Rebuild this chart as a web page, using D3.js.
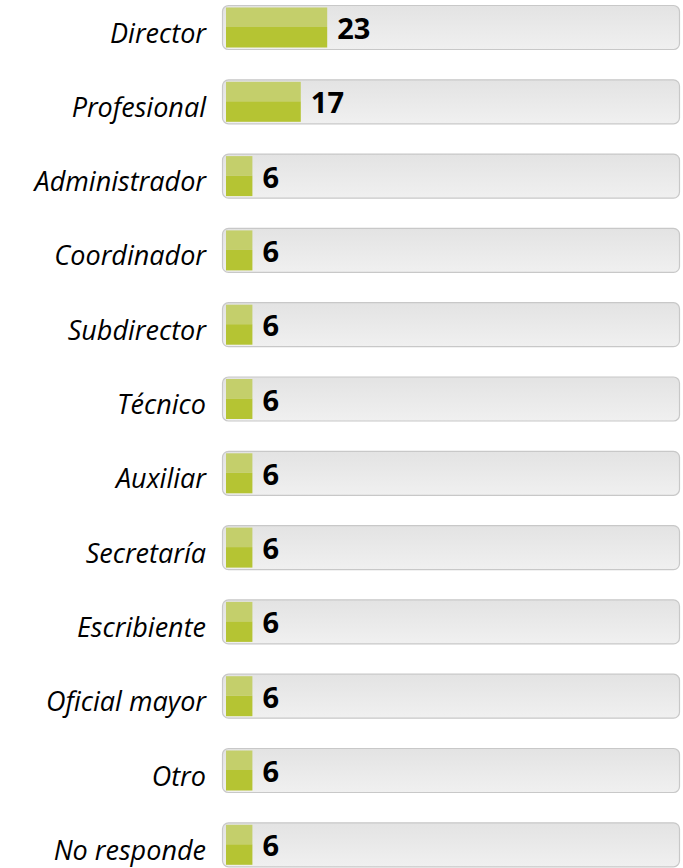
<!DOCTYPE html>
<html><head><meta charset="utf-8">
<script src="https://cdn.jsdelivr.net/npm/d3@7"></script>
<style>body{margin:0;background:#fff}</style>
</head><body>
<svg id="c" width="683" height="868"></svg>
<script>
const categories = ["Director","Profesional","Administrador","Coordinador","Subdirector","Técnico","Auxiliar","Secretaría","Escribiente","Oficial mayor","Otro","No responde"];
const values = [23,17,6,6,6,6,6,6,6,6,6,6];

const svg = d3.select("#c");
const defs = svg.append("defs");
const g1 = defs.append("linearGradient").attr("id","track").attr("x1",0).attr("y1",0).attr("x2",0).attr("y2",1);
g1.append("stop").attr("offset","0%").attr("stop-color","#e3e3e3");
g1.append("stop").attr("offset","100%").attr("stop-color","#f0f0f0");

const step = 74.3;
const y = d3.scalePoint().domain(categories).range([5, 5 + step*11]);
const x = d3.scaleLinear().domain([0,100]).range([226, 666]);

const rows = svg.selectAll("g.row").data(categories).join("g").attr("class","row");
const bh = 45;
rows.each(function(c,i){
  const g = d3.select(this);
  const top = y(c);
  g.append("rect").attr("x",222.5).attr("y",top+0.5).attr("width",457).attr("height",bh-1)
    .attr("rx",6).attr("fill","url(#track)").attr("stroke","#c8c8c8").attr("stroke-width",1.2);
  const w = x(values[i]) - x(0);
  g.append("rect").attr("x",x(0)).attr("y",top+2.5).attr("width",w).attr("height",19.5).attr("fill","#c4cf6b");
  g.append("rect").attr("x",x(0)).attr("y",top+22).attr("width",w).attr("height",20.5).attr("fill","#b5c433");
  g.append("text").attr("x",x(values[i])+10).attr("y",top+34)
    .attr("font-family","Open Sans, Noto Sans, sans-serif").attr("font-weight","bold").attr("font-size",29)
    .attr("fill","#000").text(values[i]);
  g.append("text").attr("x",206).attr("y",top+37.5).attr("text-anchor","end")
    .attr("font-family","Open Sans, Noto Sans, sans-serif").attr("font-style","italic").attr("font-size",27)
    .attr("fill","#000").text(c);
});
</script>
</body></html>
